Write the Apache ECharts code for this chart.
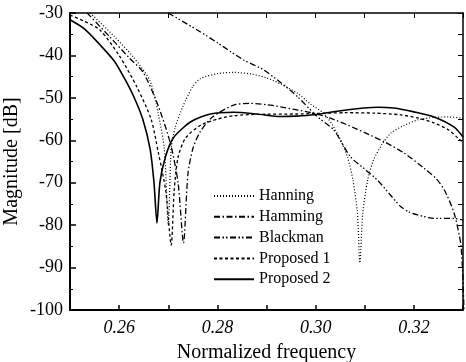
<!DOCTYPE html>
<html>
<head>
<meta charset="utf-8">
<script src="https://cdn.jsdelivr.net/npm/echarts@6/dist/echarts.min.js"></script>
<style>
  html, body { margin: 0; padding: 0; background: #fff; }
  #chart { width: 466px; height: 362px; }
</style>
</head>
<body>
<div id="chart"></div>
<script>
// values
const xTickLabels = [0.26, 0.28, 0.30, 0.32];

const hanningFreq = [0.2541, 0.2590, 0.2629, 0.2663, 0.2680, 0.2692, 0.2700, 0.2706, 0.2714, 0.2730, 0.2749, 0.2765, 0.2800, 0.2833, 0.2870, 0.2900, 0.2930, 0.2963, 0.2990, 0.3016, 0.3035, 0.3051, 0.3065, 0.3076, 0.3085, 0.3090, 0.3096, 0.3106, 0.3118, 0.3135, 0.3153, 0.3180, 0.3208, 0.3240, 0.3270, 0.3300];
const hanningMag = [-30, -35.5, -40.4, -46, -54, -62, -80, -62, -57, -52, -47.5, -45.5, -44.3, -44.0, -44.4, -45.3, -46.8, -48.9, -51.5, -53.6, -56.5, -60, -64, -69.4, -77, -88.9, -77, -69.4, -64.6, -61, -58.3, -56.5, -55.2, -54.6, -54.5, -54.8];

const hammingFreq = [0.2535, 0.2580, 0.2620, 0.2649, 0.2680, 0.2705, 0.2720, 0.2731, 0.2740, 0.2750, 0.2765, 0.2790, 0.2833, 0.2867, 0.2900, 0.2929, 0.2960, 0.2996, 0.3030, 0.3065, 0.3100, 0.3139, 0.3180, 0.3221, 0.3245, 0.3262, 0.3282, 0.3296, 0.3302];
const hammingMag = [-30, -35.5, -40.5, -44, -52, -61, -70, -84.2, -68, -62, -58, -54.5, -51.7, -51.3, -51.6, -52.1, -52.8, -53.6, -54.8, -56.4, -58.2, -60.3, -63, -66.6, -69, -71.7, -77.2, -85, -100];

const blackmanFreq = [0.2700, 0.2759, 0.2800, 0.2827, 0.2854, 0.2894, 0.2930, 0.2963, 0.3003, 0.3037, 0.3071, 0.3100, 0.3126, 0.3150, 0.3173, 0.3190, 0.3208, 0.3241, 0.3282, 0.3300];
const blackmanMag = [-30, -34, -37, -39.1, -41.1, -43.4, -46.5, -49.7, -54.4, -57.6, -63.9, -66.8, -69.4, -72.6, -75.6, -76.9, -77.6, -78.4, -78.4, -78.8];

const proposed1Freq = [0.2500, 0.2530, 0.2561, 0.2600, 0.2636, 0.2665, 0.2680, 0.2695, 0.2706, 0.2712, 0.2720, 0.2735, 0.2765, 0.2800, 0.2833, 0.2880, 0.2960, 0.3000, 0.3060, 0.3120, 0.3173, 0.3210, 0.3241, 0.3270, 0.3290, 0.3300];
const proposed1Mag = [-30.5, -32, -34, -40, -47.4, -55, -63, -72, -84.7, -72, -64, -59.5, -56.5, -55, -54.2, -53.9, -53.8, -53.7, -53.5, -53.6, -54.0, -54.8, -55.9, -57.5, -59.5, -60.5];

const proposed2Freq = [0.2500, 0.2530, 0.2561, 0.2590, 0.2609, 0.2629, 0.2648, 0.2663, 0.2671, 0.2677, 0.2683, 0.2694, 0.2710, 0.2745, 0.2786, 0.2833, 0.2880, 0.2929, 0.2960, 0.2996, 0.3040, 0.3098, 0.3127, 0.3159, 0.3200, 0.3241, 0.3282, 0.3300];
const proposed2Mag = [-31.6, -33.8, -37.5, -41.3, -45, -49.5, -55, -62, -70, -79.5, -70, -64, -59.5, -55.7, -53.8, -53.4, -53.8, -54.4, -54.3, -54.0, -53.2, -52.4, -52.2, -52.4, -53.3, -54.5, -56.9, -59.2];

const zip = (xs, ys) => xs.map((x, i) => [x, ys[i]]);
const serifFont = "'Liberation Serif', 'DejaVu Serif', serif";

const chart = echarts.init(document.getElementById("chart"));

const lineSeries = (name, freq, mag, dash, width) => ({
  name: name,
  type: "line",
  data: zip(freq, mag),
  symbol: "none",
  smooth: 0.25,
  clip: true,
  color: "#000",
  lineStyle: { color: "#000", width: width, type: dash },
  emphasis: { disabled: true },
});

const option = {
  backgroundColor: "#fff",
  animation: false,
  grid: { left: 70, right: 3, top: 13, bottom: 52, outerBoundsMode: "none", containLabel: false },
  legend: {
    orient: "vertical",
    left: 213,
    top: 188,
    padding: 0,
    itemWidth: 40,
    itemHeight: 14,
    itemGap: 4.8,
    itemStyle: { opacity: 0 },
    textStyle: { fontFamily: serifFont, fontSize: 16, color: "#000" },
    data: ["Hanning", "Hamming", "Blackman", "Proposed 1", "Proposed 2"],
  },
  xAxis: [
    {
      type: "value",
      min: 0.25,
      max: 0.33,
      interval: 0.01,
      position: "bottom",
      name: "Normalized frequency",
      nameLocation: "middle",
      nameGap: 33,
      nameMoveOverlap: false,
      nameTextStyle: { fontFamily: serifFont, fontSize: 20, color: "#000" },
      axisLine: { onZero: false, lineStyle: { color: "#000", width: 2 } },
      axisTick: { inside: true, length: 5, lineStyle: { color: "#000", width: 1.5 } },
      axisLabel: {
        customValues: xTickLabels,
        formatter: (v) => v.toFixed(2),
        fontFamily: serifFont,
        fontSize: 18,
        fontStyle: "italic",
        color: "#000",
        margin: 9,
      },
      splitLine: { show: false },
    },
    {
      type: "value",
      min: 0.25,
      max: 0.33,
      interval: 0.01,
      position: "top",
      axisLine: { onZero: false, lineStyle: { color: "#000", width: 1.5 } },
      axisTick: { inside: true, length: 5, lineStyle: { color: "#000" } },
      axisLabel: { show: false },
      splitLine: { show: false },
    },
  ],
  yAxis: [
    {
      type: "value",
      min: -100,
      max: -30,
      interval: 10,
      position: "left",
      name: "Magnitude [dB]",
      nameLocation: "middle",
      nameGap: 48,
      nameMoveOverlap: false,
      nameTextStyle: { fontFamily: serifFont, fontSize: 20, color: "#000" },
      axisLine: { onZero: false, lineStyle: { color: "#000", width: 2 } },
      axisTick: { inside: true, length: 6, lineStyle: { color: "#000", width: 1.5 } },
      minorTick: { show: true, splitNumber: 2, length: 3, lineStyle: { color: "#000" } },
      axisLabel: { fontFamily: serifFont, fontSize: 18, color: "#000", margin: 7 },
      splitLine: { show: false },
    },
    {
      type: "value",
      min: -100,
      max: -30,
      interval: 5,
      position: "right",
      axisLine: { onZero: false, lineStyle: { color: "#000", width: 1.5 } },
      axisTick: { inside: true, length: 5, lineStyle: { color: "#000" } },
      axisLabel: { show: false },
      splitLine: { show: false },
    },
  ],
  series: [
    lineSeries("Hanning", hanningFreq, hanningMag, [1, 2], 1.2),
    lineSeries("Hamming", hammingFreq, hammingMag, [6, 2.5, 1.5, 2.5], 1.3),
    lineSeries("Blackman", blackmanFreq, blackmanMag, [6, 2.5, 1.5, 2, 1.5, 2.5], 1.3),
    lineSeries("Proposed 1", proposed1Freq, proposed1Mag, [3, 2.5], 1.3),
    lineSeries("Proposed 2", proposed2Freq, proposed2Mag, "solid", 1.6),
  ],
};

chart.setOption(option);
</script>
</body>
</html>
